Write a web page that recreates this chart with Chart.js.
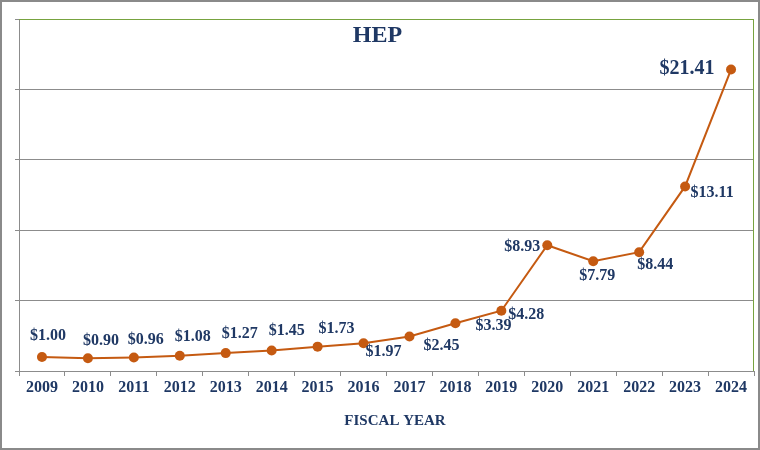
<!DOCTYPE html>
<html><head><meta charset="utf-8">
<script src="https://cdn.jsdelivr.net/npm/chart.js@4/dist/chart.umd.min.js"></script>
<style>html,body{margin:0;padding:0;background:#fff}#wrap{width:760px;height:450px;position:relative}</style>
</head><body><div id="wrap"><canvas id="c"></canvas></div>
<script>
const years = ['2009','2010','2011','2012','2013','2014','2015','2016','2017','2018','2019','2020','2021','2022','2023','2024'];
const values = [1.00,0.90,0.96,1.08,1.27,1.45,1.73,1.97,2.45,3.39,4.28,8.93,7.79,8.44,13.11,21.41];
const valueLabels = ['$1.00','$0.90','$0.96','$1.08','$1.27','$1.45','$1.73','$1.97','$2.45','$3.39','$4.28','$8.93','$7.79','$8.44','$13.11','$21.41'];
const yMin = 0, yMax = 25, yStep = 5;
const chartTitle = 'HEP';
const xTitle = 'FISCAL YEAR';

// label placement relative to each point (px)
const labelDX = [6,13,12,13,14,15,19,20,32,38,25,-25,4,16,27,-44];
const labelDY = [-21,-17,-18,-19,-19,-20,-18,9,9,3,4,2,15,13,6,-1];

const SERIF = '"Liberation Serif","Times New Roman",serif';
const NAVY = '#1F3864';
const GRAY = '#8C8C8C';

const decor = {
  id: 'decor',
  beforeDraw(chart) {
    const c = chart.ctx;
    c.save(); c.fillStyle = '#fff'; c.fillRect(0, 0, chart.width, chart.height); c.restore();
  },
  beforeDatasetsDraw(chart) {
    const c = chart.ctx, a = chart.chartArea;
    c.save();
    c.strokeStyle = '#77A33F'; c.lineWidth = 1;
    c.beginPath();
    c.moveTo(a.left, a.top + 0.5); c.lineTo(a.right - 0.5, a.top + 0.5); c.lineTo(a.right - 0.5, a.bottom);
    c.stroke();
    c.restore();
  },
  afterDatasetsDraw(chart) {
    const c = chart.ctx;
    const meta = chart.getDatasetMeta(0);
    c.save();
    c.fillStyle = NAVY;
    c.textAlign = 'center'; c.textBaseline = 'middle';
    meta.data.forEach((pt, i) => {
      const big = i === values.length - 1;
      c.font = 'bold ' + (big ? 20 : 16) + 'px ' + SERIF;
      c.fillText(valueLabels[i], pt.x + labelDX[i], pt.y + labelDY[i]);
    });
    c.restore();
  },
  afterDraw(chart) {
    const c = chart.ctx;
    c.save();
    c.fillStyle = NAVY; c.textAlign = 'center'; c.textBaseline = 'middle';
    c.font = 'bold 24px ' + SERIF;
    c.fillText(chartTitle, 377.5, 36);
    c.font = 'bold 15px ' + SERIF;
    c.fillText(xTitle, 395, 421);
    c.strokeStyle = '#8A8A8A'; c.lineWidth = 2;
    c.strokeRect(1, 1, chart.width - 2, chart.height - 2);
    c.restore();
  }
};

new Chart(document.getElementById('c'), {
  type: 'line',
  data: {
    labels: years,
    datasets: [{
      data: values,
      borderColor: '#C55A11',
      backgroundColor: '#C55A11',
      borderWidth: 2,
      pointRadius: 5,
      pointBackgroundColor: '#C55A11',
      pointBorderColor: '#C55A11',
      pointBorderWidth: 0,
      tension: 0,
      fill: false
    }]
  },
  options: {
    responsive: true,
    maintainAspectRatio: false,
    animation: false,
    layout: { padding: { top: 19, right: 6, left: 0, bottom: 0 } },
    plugins: { legend: { display: false }, tooltip: { enabled: false }, title: { display: false } },
    scales: {
      x: {
        offset: true,
        grid: { drawOnChartArea: false, drawTicks: true, tickLength: 5, color: GRAY, offset: true },
        border: { color: GRAY, width: 1 },
        ticks: { color: NAVY, font: { family: SERIF, size: 16, weight: 'bold' }, padding: 2, maxRotation: 0, autoSkip: false },
        afterFit(s) { s.height = 79; }
      },
      y: {
        min: yMin, max: yMax,
        ticks: { display: false, stepSize: yStep },
        grid: { color: GRAY, tickLength: 4, drawTicks: true },
        border: { color: GRAY, width: 1 },
        afterFit(s) { s.width = 19; }
      }
    }
  },
  plugins: [decor]
});
</script>
</body></html>
